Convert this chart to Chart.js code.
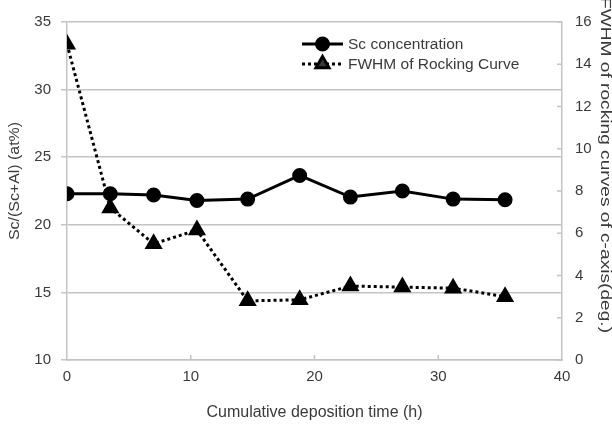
<!DOCTYPE html>
<html>
<head>
<meta charset="utf-8">
<script src="https://cdn.jsdelivr.net/npm/chart.js@4/dist/chart.umd.min.js"></script>
<style>
  html, body { margin: 0; padding: 0; background: #fff; }
  #wrap { width: 612px; height: 428px; }
</style>
</head>
<body>
<div id="wrap"><canvas id="chart" width="612" height="428"></canvas></div>
<script>
// cumulative deposition time (h)
const times = [0, 3.5, 7, 10.5, 14.6, 18.8, 22.9, 27.1, 31.2, 35.4];
// Sc/(Sc+Al) (at%)
const scConc = [22.3, 22.3, 22.2, 21.8, 21.9, 23.65, 22.05, 22.5, 21.9, 21.85];
// FWHM of rocking curve (deg.)
const fwhm = [14.95, 7.2, 5.5, 6.15, 2.8, 2.85, 3.5, 3.45, 3.4, 3.0];

const xTicks = [0, 10, 20, 30, 40];
const leftTicks = [10, 15, 20, 25, 30, 35];
const rightTicks = [0, 2, 4, 6, 8, 10, 12, 14, 16];

const FONT = '"Liberation Sans", Arial, sans-serif';
const TEXT = '#3a3a3a';
const GRID = '#c4c4c4';

function toPoints(xs, ys) {
    return xs.map((x, i) => ({ x: x, y: ys[i] }));
}

// vertical titles in the original are stretched along the text
function stretchedText(ctx, text, cx, cy, angle, length) {
    ctx.save();
    ctx.font = '14px ' + FONT;
    const w = ctx.measureText(text).width;
    ctx.translate(cx, cy);
    ctx.rotate(angle);
    ctx.scale(length / w, 1);
    ctx.fillStyle = TEXT;
    ctx.textAlign = 'center';
    ctx.textBaseline = 'middle';
    ctx.fillText(text, 0, 0);
    ctx.restore();
}

// inward tick marks + legend + axis titles
const extras = {
    id: 'extras',
    afterDraw(chart) {
        const ctx = chart.ctx;
        const area = chart.chartArea;
        const xs = chart.scales.x;
        const yr = chart.scales.y1;
        ctx.save();
        ctx.strokeStyle = GRID;
        ctx.lineWidth = 1.5;
        ctx.beginPath();
        xTicks.slice(1, -1).forEach(v => {
            const px = xs.getPixelForValue(v);
            ctx.moveTo(px, area.bottom);
            ctx.lineTo(px, area.bottom - 5);
        });
        rightTicks.forEach(v => {
            const py = yr.getPixelForValue(v);
            ctx.moveTo(area.right, py);
            ctx.lineTo(area.right - 5, py);
        });
        ctx.stroke();

        // legend
        const items = chart.data.datasets;
        const lx = 302, lw = 41;
        const rows = [44, 64];
        items.forEach((ds, i) => {
            const y = rows[i];
            ctx.strokeStyle = ds.borderColor;
            ctx.lineWidth = ds.borderWidth;
            ctx.setLineDash(ds.borderDash || []);
            ctx.beginPath();
            ctx.moveTo(lx, y);
            ctx.lineTo(lx + lw, y);
            ctx.stroke();
            ctx.setLineDash([]);
            Chart.helpers.drawPoint(ctx, {
                pointStyle: ds.pointStyle,
                radius: ds.pointRadius,
                borderWidth: 1
            }, lx + lw / 2, y);
            ctx.fillStyle = TEXT;
            ctx.font = '15.5px ' + FONT;
            ctx.textAlign = 'left';
            ctx.textBaseline = 'middle';
            ctx.fillText(ds.label, lx + lw + 5, y + 1);
        });
        ctx.restore();

        stretchedText(ctx, 'Sc/(Sc+Al) (at%)', 15, 181, -Math.PI / 2, 118);
        stretchedText(ctx, 'FWHM of rocking curves of c-axis(deg.)', 605, 165, Math.PI / 2, 336);
    }
};

Chart.defaults.font.family = FONT;
Chart.defaults.font.size = 15;
Chart.defaults.color = TEXT;

new Chart(document.getElementById('chart').getContext('2d'), {
    type: 'line',
    data: {
        datasets: [{
            label: 'Sc concentration',
            data: toPoints(times, scConc),
            yAxisID: 'y',
            borderColor: '#000',
            backgroundColor: '#000',
            borderWidth: 3,
            pointStyle: 'circle',
            pointRadius: 6,
            pointBackgroundColor: '#000',
            pointBorderColor: '#000',
            tension: 0
        }, {
            label: 'FWHM of Rocking Curve',
            data: toPoints(times, fwhm),
            yAxisID: 'y1',
            borderColor: '#000',
            backgroundColor: '#000',
            borderWidth: 3,
            borderDash: [3, 3],
            pointStyle: 'triangle',
            pointRadius: 7.5,
            pointBackgroundColor: '#000',
            pointBorderColor: '#000',
            tension: 0
        }]
    },
    options: {
        responsive: false,
        animation: false,
        layout: { padding: { top: 18, left: 0, right: 0, bottom: 0 } },
        plugins: {
            legend: { display: false },
            tooltip: { enabled: false }
        },
        scales: {
            x: {
                type: 'linear',
                min: 0,
                max: 40,
                afterBuildTicks: s => { s.ticks = xTicks.map(v => ({ value: v })); },
                afterFit: s => { s.height = 68; },
                grid: { drawOnChartArea: false, drawTicks: false },
                border: { color: GRID, width: 1.5 },
                ticks: { padding: 8, color: TEXT, font: { size: 15 } },
                title: {
                    display: true,
                    text: 'Cumulative deposition time (h)',
                    color: TEXT,
                    font: { size: 16 },
                    padding: { top: 0, bottom: 6 }
                }
            },
            y: {
                position: 'left',
                min: 10,
                max: 35,
                afterBuildTicks: s => { s.ticks = leftTicks.map(v => ({ value: v })); },
                afterFit: s => { s.width = 67; },
                grid: { color: GRID, lineWidth: 1.5, drawTicks: true, tickLength: 6 },
                border: { color: GRID, width: 1.5 },
                ticks: { padding: 10, color: TEXT, font: { size: 15 } }
            },
            y1: {
                position: 'right',
                min: 0,
                max: 16,
                afterBuildTicks: s => { s.ticks = rightTicks.map(v => ({ value: v })); },
                afterFit: s => { s.width = 50; },
                grid: { drawOnChartArea: false, drawTicks: false },
                border: { color: GRID, width: 1.5 },
                ticks: { padding: 13, color: TEXT, font: { size: 15 } }
            }
        }
    },
    plugins: [extras]
});
</script>
</body>
</html>
